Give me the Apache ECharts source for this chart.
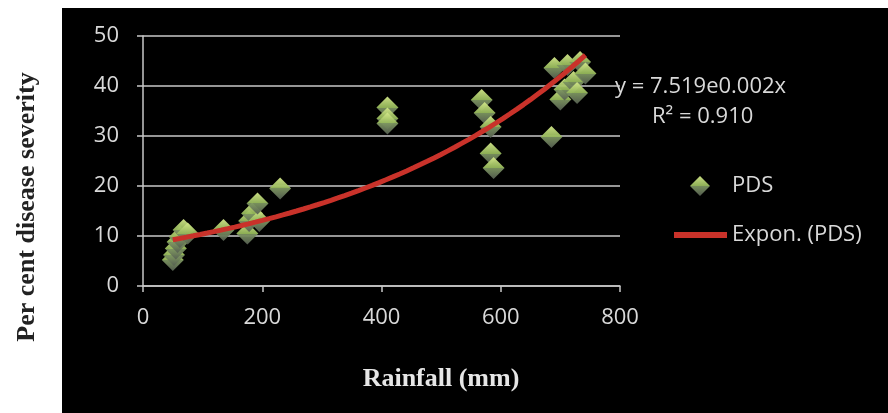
<!DOCTYPE html>
<html>
<head>
<meta charset="utf-8">
<script src="https://cdn.jsdelivr.net/npm/echarts@6/dist/echarts.min.js"></script>
<style>
html,body{margin:0;padding:0;background:#ffffff;}
#bg{position:absolute;left:62px;top:8px;width:826px;height:405px;background:#000000;}
#chart{position:absolute;left:0;top:0;width:888px;height:413px;}
</style>
</head>
<body>
<div id="bg"></div>
<div id="chart"></div>
<script>
// Rainfall (mm) and per cent disease severity (PDS)
var rainfall = [50, 52, 55, 58, 62, 68, 75, 135, 175, 178, 183, 195, 192, 230,
                410, 410, 410, 568, 573, 583, 583, 588,
                685, 690, 700, 707, 712, 722, 728, 733, 742];
var pds = [5.2, 6.2, 7.5, 8.8, 9.8, 11.2, 10.5, 11.2, 10.5, 13, 14.5, 13, 16.5, 19.5,
           35.7, 33.5, 32.5, 37.2, 34.6, 31.8, 26.5, 23.6,
           29.8, 43.6, 37.3, 39.3, 44.2, 40.8, 38.6, 44.8, 42.5];
var xTicks = [0, 200, 400, 600, 800];
var yTicks = [0, 10, 20, 30, 40, 50];
var equationText = 'y = 7.519e0.002x';
var r2Text = 'R\u00B2 = 0.910';
var seriesName = 'PDS';
var trendName = 'Expon. (PDS)';

// exponential least-squares fit (as a spreadsheet trendline does)
function expFit(xs, ys) {
  var n = xs.length, sx = 0, sy = 0, sxx = 0, sxy = 0;
  for (var i = 0; i < n; i++) {
    var ly = Math.log(ys[i]);
    sx += xs[i]; sy += ly; sxx += xs[i] * xs[i]; sxy += xs[i] * ly;
  }
  var b = (n * sxy - sx * sy) / (n * sxx - sx * sx);
  var a = Math.exp((sy - b * sx) / n);
  return {a: a, b: b};
}
var fit = expFit(rainfall, pds);
var xMin = Math.min.apply(null, rainfall), xMax = Math.max.apply(null, rainfall);
var trend = [];
for (var k = 0; k <= 60; k++) {
  var xv = xMin + (xMax - xMin) * k / 60;
  trend.push([xv, fit.a * Math.exp(fit.b * xv)]);
}
var points = rainfall.map(function (x, i) { return [x, pds[i]]; });

var labelFont = '"Open Sans", sans-serif';
var lightText = '#d9d9d9';
var gridColor = '#c8c8c8';
var markerColor = new echarts.graphic.LinearGradient(0, 0, 0, 1, [
  {offset: 0, color: '#d4e88a'},
  {offset: 0.5, color: '#95b85a'},
  {offset: 0.5, color: '#7d9660'},
  {offset: 1, color: '#565f52'}
]);

var chart = echarts.init(document.getElementById('chart'), null, {renderer: 'canvas'});
chart.setOption({
  backgroundColor: 'transparent',
  animation: false,
  grid: {left: 143, right: 268, top: 36, bottom: 127, containLabel: false},
  xAxis: {
    type: 'value', min: xTicks[0], max: xTicks[xTicks.length - 1], interval: 200,
    axisLine: {show: true, onZero: false, lineStyle: {color: gridColor, width: 1.5}},
    axisTick: {show: true, length: 6, inside: false, lineStyle: {color: gridColor, width: 1.5}},
    splitLine: {show: false},
    axisLabel: {color: lightText, fontFamily: labelFont, fontSize: 22, margin: 21}
  },
  yAxis: {
    type: 'value', min: yTicks[0], max: yTicks[yTicks.length - 1], interval: 10,
    axisLine: {show: true, lineStyle: {color: gridColor, width: 1.5}},
    axisTick: {show: true, length: 6, inside: false, lineStyle: {color: gridColor, width: 1.5}},
    splitLine: {show: true, lineStyle: {color: gridColor, width: 1.5}},
    axisLabel: {color: lightText, fontFamily: labelFont, fontSize: 22, margin: 24}
  },
  legend: [{
    data: [{name: seriesName, icon: 'diamond', itemStyle: {color: markerColor}}],
    left: 690, top: 175, orient: 'vertical', padding: 0,
    itemWidth: 20, itemHeight: 20,
    textStyle: {color: lightText, fontFamily: labelFont, fontSize: 22, padding: [0, 0, 0, 17]},
    selectedMode: false
  }, {
    data: [{name: trendName, icon: 'rect', itemStyle: {color: '#c9322a'}}],
    left: 674, top: 224, orient: 'vertical', padding: 0,
    itemWidth: 53, itemHeight: 6,
    textStyle: {color: lightText, fontFamily: labelFont, fontSize: 22},
    selectedMode: false
  }],
  series: [{
    name: seriesName, type: 'scatter', data: points,
    symbol: 'diamond', symbolSize: 22,
    itemStyle: {color: markerColor, opacity: 0.95},
    z: 3
  }, {
    name: trendName, type: 'line', data: trend,
    showSymbol: false, smooth: false,
    lineStyle: {color: '#c9322a', width: 5},
    itemStyle: {color: '#c9322a'},
    z: 5
  }],
  graphic: [{
    type: 'text', x: 27, y: 207, rotation: Math.PI / 2,
    style: {text: 'Per cent disease severity', fill: '#222222',
      font: 'bold 26px "Liberation Serif", "Times New Roman", serif',
      align: 'center', verticalAlign: 'middle'}
  }, {
    type: 'text', x: 441, y: 379,
    style: {text: 'Rainfall (mm)', fill: '#e6e6e6',
      font: 'bold 26px "Liberation Serif", "Times New Roman", serif',
      align: 'center', verticalAlign: 'middle'}
  }, {
    type: 'text', x: 615, y: 87,
    style: {text: equationText, fill: lightText,
      font: '22px "Open Sans", sans-serif', align: 'left', verticalAlign: 'middle'}
  }, {
    type: 'text', x: 652, y: 117,
    style: {text: r2Text, fill: lightText,
      font: '22px "Open Sans", sans-serif', align: 'left', verticalAlign: 'middle'}
  }]
});
</script>
</body>
</html>
